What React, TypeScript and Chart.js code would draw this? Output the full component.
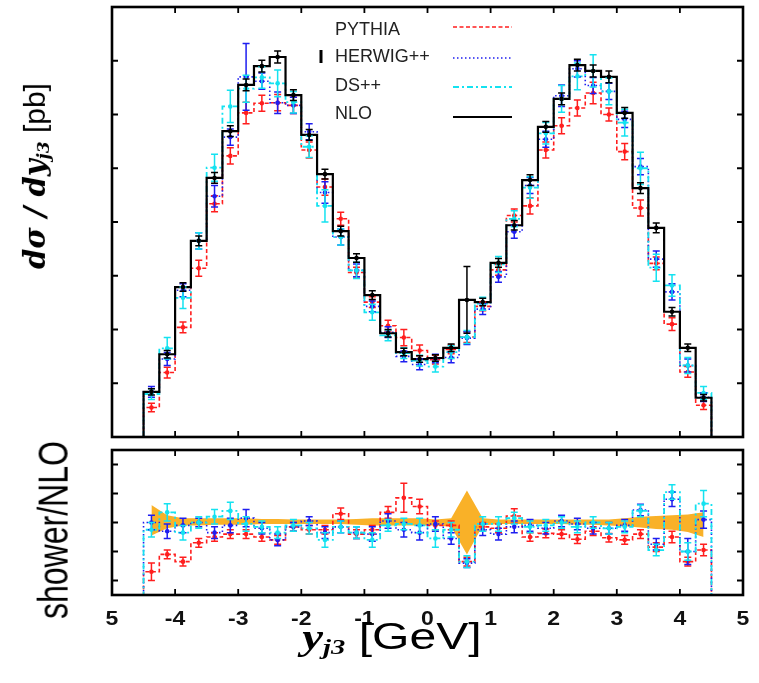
import React, { useEffect, useRef } from "react";
import { Chart, registerables } from "chart.js";
Chart.register(...registerables);

// ---------- data ----------
const binEdges = [-4.5,-4.25,-4,-3.75,-3.5,-3.25,-3,-2.75,-2.5,-2.25,-2,-1.75,-1.5,-1.25,-1,-0.75,-0.5,-0.25,0,0.25,0.5,0.75,1,1.25,1.5,1.75,2,2.25,2.5,2.75,3,3.25,3.5,3.75,4,4.25,4.5];
const xTickValues = [-5,-4,-3,-2,-1,0,1,2,3,4,5];
const xTickLabels = ["5","-4","-3","-2","-1","0","1","2","3","4","5"];
const topYTicks = [0,1,2,3,4,5,6,7,8];
const ratioYTicks = [0.6,0.8,1.0,1.2,1.4];

// top panel: d sigma / dy (arbitrary units)
const nlo = [0.84,1.54,2.79,3.65,4.82,5.69,6.55,6.90,7.07,6.36,5.62,4.89,3.83,3.33,2.64,1.93,1.58,1.45,1.47,1.66,2.55,2.51,3.24,3.94,4.78,5.77,6.29,6.92,6.81,6.70,6.03,4.63,3.89,2.33,1.66,0.73];
const nloErr = [0.06,0.07,0.08,0.09,0.10,0.10,0.11,0.11,0.11,0.10,0.10,0.09,0.09,0.08,0.08,0.07,0.07,0.06,0.06,0.07,0.62,0.07,0.08,0.09,0.10,0.10,0.11,0.11,0.11,0.11,0.10,0.10,0.09,0.08,0.07,0.06];
const pythia = [0.55,1.20,2.04,3.14,4.34,5.23,6.03,6.21,6.22,6.17,5.34,4.65,4.06,3.06,2.51,2.07,1.85,1.61,1.44,1.63,1.86,2.43,3.11,4.12,4.30,5.34,5.79,6.12,6.40,6.00,5.31,4.26,3.23,2.10,1.21,0.59];
const pythiaErr = [0.08,0.10,0.10,0.15,0.15,0.15,0.20,0.15,0.15,0.15,0.15,0.15,0.12,0.10,0.10,0.10,0.15,0.10,0.08,0.08,0.10,0.08,0.10,0.12,0.15,0.15,0.15,0.15,0.20,0.12,0.15,0.15,0.12,0.12,0.10,0.08];
const herwig = [0.84,1.45,2.73,3.65,4.48,5.58,6.70,6.62,6.22,6.17,5.68,4.55,3.72,3.10,2.43,1.95,1.50,1.35,1.46,1.48,1.84,2.38,2.98,3.82,4.68,5.54,6.35,6.85,6.54,6.43,5.91,5.03,3.31,2.70,1.33,0.74];
const herwigErr = [0.10,0.12,0.12,0.15,0.20,0.15,0.62,0.15,0.20,0.15,0.15,0.20,0.15,0.12,0.10,0.10,0.10,0.10,0.08,0.10,0.12,0.10,0.10,0.12,0.15,0.15,0.20,0.15,0.15,0.15,0.15,0.15,0.15,0.15,0.12,0.08];
const dspp = [0.80,1.65,2.59,3.65,5.01,6.15,6.48,6.69,6.58,6.23,5.40,4.30,3.72,3.10,2.32,1.89,1.56,1.42,1.31,1.58,1.86,2.48,3.21,4.06,4.64,5.65,6.29,6.71,6.81,6.43,5.85,5.00,3.15,2.82,1.33,0.82];
const dsppErr = [0.10,0.20,0.20,0.15,0.25,0.30,0.25,0.20,0.25,0.20,0.20,0.30,0.15,0.15,0.15,0.10,0.10,0.10,0.10,0.12,0.12,0.12,0.15,0.15,0.20,0.20,0.25,0.25,0.30,0.25,0.25,0.30,0.25,0.20,0.15,0.12];

// bottom panel: shower / NLO
const pythiaRatio = [0.66,0.78,0.73,0.86,0.90,0.92,0.92,0.90,0.88,0.97,0.95,0.95,1.06,0.92,0.95,1.07,1.17,1.11,0.98,0.98,0.73,0.97,0.96,1.045,0.90,0.925,0.92,0.885,0.94,0.895,0.88,0.92,0.83,0.90,0.73,0.81];
const pythiaRatioErr = [0.06,0.03,0.03,0.03,0.03,0.03,0.03,0.03,0.03,0.03,0.03,0.03,0.04,0.03,0.03,0.04,0.10,0.05,0.03,0.03,0.03,0.03,0.03,0.05,0.03,0.03,0.03,0.03,0.03,0.03,0.03,0.03,0.03,0.04,0.03,0.04];
const herwigRatio = [1.00,0.94,0.98,1.00,0.93,0.98,1.03,0.96,0.88,0.97,1.01,0.93,0.97,0.93,0.92,1.01,0.95,0.93,0.99,0.89,0.72,0.95,0.92,0.97,0.98,0.96,1.01,0.99,0.96,0.96,0.98,1.086,0.85,1.16,0.80,1.02];
const herwigRatioErr = [0.05,0.05,0.05,0.03,0.04,0.05,0.06,0.04,0.04,0.03,0.03,0.04,0.04,0.04,0.05,0.05,0.05,0.05,0.05,0.04,0.03,0.04,0.04,0.04,0.04,0.04,0.04,0.04,0.04,0.04,0.04,0.04,0.04,0.05,0.09,0.06];
const dsppRatio = [0.95,1.07,0.93,1.00,1.04,1.08,0.99,0.97,0.93,0.98,0.96,0.88,0.97,0.93,0.88,0.98,0.99,0.98,0.89,0.95,0.73,0.99,0.99,1.03,0.97,0.98,1.00,0.97,1.00,0.96,0.97,1.08,0.81,1.21,0.80,1.13];
const dsppRatioErr = [0.05,0.06,0.05,0.04,0.05,0.06,0.05,0.04,0.04,0.04,0.04,0.05,0.04,0.04,0.05,0.04,0.04,0.05,0.06,0.05,0.04,0.05,0.05,0.04,0.04,0.04,0.04,0.04,0.04,0.04,0.04,0.04,0.04,0.05,0.06,0.09];
// NLO scale-uncertainty band
const bandHi = [1.12,1.05,1.03,1.03,1.03,1.03,1.03,1.025,1.025,1.02,1.02,1.02,1.02,1.025,1.03,1.03,1.03,1.03,1.02,1.03,1.22,1.03,1.02,1.02,1.02,1.02,1.02,1.02,1.02,1.02,1.03,1.04,1.045,1.05,1.055,1.07];
const bandLo = [0.91,0.96,0.98,0.98,0.985,0.985,0.985,0.99,0.99,0.99,0.99,0.99,0.99,0.985,0.98,0.98,0.98,0.98,0.98,0.97,0.78,0.98,0.99,0.99,0.99,0.99,0.99,0.985,0.985,0.98,0.975,0.965,0.955,0.95,0.935,0.90];

const legendNames = ["PYTHIA", "HERWIG++", "DS++", "NLO"];

// ---------- styles ----------
const RED = "#ff1e1e";
const BLUE = "#1e1ef0";
const CYAN = "#14e2f0";
const BLACK = "#000000";
const ORANGE = "#f9b128";
const STY = [
  { color: RED, dash: [4, 2.5], width: 1.6 },
  { color: BLUE, dash: [1.5, 2.5], width: 1.6 },
  { color: CYAN, dash: [6, 3, 2, 3], width: 1.8 },
  { color: BLACK, dash: [] as number[], width: 2.2 },
];

const centers = binEdges.slice(0, -1).map((e, i) => (e + binEdges[i + 1]) / 2);

function stepData(vals: number[]) {
  const pts: { x: number; y: number }[] = [{ x: binEdges[0], y: 0 }];
  vals.forEach((v, i) => pts.push({ x: binEdges[i], y: v }));
  pts.push({ x: binEdges[binEdges.length - 1], y: vals[vals.length - 1] });
  pts.push({ x: binEdges[binEdges.length - 1], y: 0 });
  return pts;
}

function stepDataset(vals: number[], s: number, order: number) {
  return {
    data: stepData(vals),
    stepped: "before" as const,
    borderColor: STY[s].color,
    borderDash: STY[s].dash,
    borderWidth: STY[s].width,
    pointRadius: 0,
    fill: false,
    order,
  };
}

type ErrSeries = { y: number[]; e: number[]; color: string };

function decorPlugin(cfg: { err: ErrSeries[]; yTicks: number[]; labels: boolean; legend: boolean }) {
  return {
    id: "decor",
    afterDatasetsDraw(chart: any) {
      const ctx = chart.ctx as CanvasRenderingContext2D;
      const a = chart.chartArea;
      const xs = chart.scales.x;
      const ys = chart.scales.y;
      // error bars + points
      ctx.save();
      ctx.beginPath();
      ctx.rect(a.left, a.top, a.right - a.left, a.bottom - a.top);
      ctx.clip();
      ctx.setLineDash([]);
      for (const s of cfg.err) {
        ctx.strokeStyle = s.color;
        ctx.fillStyle = s.color;
        ctx.lineWidth = 1.5;
        s.y.forEach((v, i) => {
          const cx = xs.getPixelForValue(centers[i]);
          const y0 = ys.getPixelForValue(v - s.e[i]);
          const y1 = ys.getPixelForValue(v + s.e[i]);
          const cy = ys.getPixelForValue(v);
          ctx.beginPath();
          ctx.moveTo(cx, y0); ctx.lineTo(cx, y1);
          ctx.moveTo(cx - 3.5, y0); ctx.lineTo(cx + 3.5, y0);
          ctx.moveTo(cx - 3.5, y1); ctx.lineTo(cx + 3.5, y1);
          ctx.stroke();
          ctx.beginPath();
          ctx.arc(cx, cy, 2.3, 0, Math.PI * 2);
          ctx.fill();
        });
      }
      ctx.restore();

      // frame and inward ticks
      ctx.save();
      ctx.setLineDash([]);
      ctx.strokeStyle = "#000";
      ctx.lineWidth = 2.6;
      ctx.strokeRect(a.left, a.top, a.right - a.left, a.bottom - a.top);
      ctx.lineWidth = 1.8;
      ctx.beginPath();
      for (const v of xTickValues) {
        const px = xs.getPixelForValue(v);
        ctx.moveTo(px, a.bottom); ctx.lineTo(px, a.bottom - 6);
        ctx.moveTo(px, a.top); ctx.lineTo(px, a.top + 6);
      }
      for (const v of cfg.yTicks) {
        const py = ys.getPixelForValue(v);
        ctx.moveTo(a.left, py); ctx.lineTo(a.left + 6, py);
        ctx.moveTo(a.right, py); ctx.lineTo(a.right - 6, py);
      }
      ctx.stroke();

      if (cfg.labels) {
        ctx.fillStyle = "#111";
        ctx.font = 'bold 20px "Liberation Sans", Arial, sans-serif';
        ctx.textAlign = "center";
        ctx.textBaseline = "middle";
        xTickValues.forEach((v, i) => {
          const px = xs.getPixelForValue(v);
          ctx.save();
          ctx.translate(px, a.bottom + 24);
          ctx.scale(1.15, 1);
          ctx.fillText(xTickLabels[i], 0, 0);
          ctx.restore();
        });
      }

      if (cfg.legend) {
        const textY = [30, 57, 86, 114];
        const lineY = [27, 58, 87, 117];
        ctx.font = '18px "Liberation Sans", Arial, sans-serif';
        ctx.textAlign = "left";
        ctx.textBaseline = "middle";
        legendNames.forEach((n, i) => {
          ctx.fillStyle = "#222";
          ctx.fillText(n, 335, textY[i]);
          ctx.strokeStyle = STY[i].color;
          ctx.lineWidth = STY[i].width;
          ctx.setLineDash(STY[i].dash);
          ctx.beginPath();
          ctx.moveTo(453, lineY[i]);
          ctx.lineTo(512, lineY[i]);
          ctx.stroke();
        });
        ctx.setLineDash([]);
        ctx.strokeStyle = "#000";
        ctx.lineWidth = 3;
        ctx.beginPath();
        ctx.moveTo(321, 50);
        ctx.lineTo(321, 63);
        ctx.stroke();
      }
      ctx.restore();
    },
  };
}

function hiddenScale(min: number, max: number, step: number, fit: (s: any) => void) {
  return {
    type: "linear" as const,
    min,
    max,
    ticks: { display: false, stepSize: step },
    grid: { display: false },
    border: { display: false },
    afterFit: fit,
  };
}

export default function App() {
  const topRef = useRef<HTMLCanvasElement>(null);
  const botRef = useRef<HTMLCanvasElement>(null);

  useEffect(() => {
    const top = new Chart(topRef.current!, {
      type: "line",
      data: {
        datasets: [
          stepDataset(nlo, 3, 0),
          stepDataset(dspp, 2, 1),
          stepDataset(herwig, 1, 2),
          stepDataset(pythia, 0, 3),
        ] as any,
      },
      options: {
        animation: false,
        responsive: false,
        devicePixelRatio: 1,
        layout: { padding: { left: 0, right: 16, top: 7, bottom: 0 } },
        plugins: { legend: { display: false }, tooltip: { enabled: false } },
        scales: {
          x: hiddenScale(-5, 5, 1, (s: any) => { s.height = 8; }),
          y: hiddenScale(0, 8, 1, (s: any) => { s.width = 112; }),
        } as any,
      },
      plugins: [
        decorPlugin({
          err: [
            { y: pythia, e: pythiaErr, color: RED },
            { y: herwig, e: herwigErr, color: BLUE },
            { y: dspp, e: dsppErr, color: CYAN },
            { y: nlo, e: nloErr, color: BLACK },
          ],
          yTicks: topYTicks,
          labels: false,
          legend: true,
        }),
      ],
    });

    const bot = new Chart(botRef.current!, {
      type: "line",
      data: {
        datasets: [
          {
            data: centers.map((c, i) => ({ x: c, y: bandLo[i] })),
            borderWidth: 0,
            pointRadius: 0,
            fill: false,
            order: 10,
          },
          {
            data: centers.map((c, i) => ({ x: c, y: bandHi[i] })),
            borderWidth: 0,
            pointRadius: 0,
            fill: "-1",
            backgroundColor: ORANGE,
            order: 9,
          },
          stepDataset(dsppRatio, 2, 1),
          stepDataset(herwigRatio, 1, 2),
          stepDataset(pythiaRatio, 0, 3),
        ] as any,
      },
      options: {
        animation: false,
        responsive: false,
        devicePixelRatio: 1,
        layout: { padding: { left: 0, right: 16, top: 5, bottom: 0 } },
        plugins: { legend: { display: false }, tooltip: { enabled: false } },
        scales: {
          x: hiddenScale(-5, 5, 1, (s: any) => { s.height = 88; }),
          y: hiddenScale(0.5, 1.5, 0.2, (s: any) => { s.width = 112; }),
        } as any,
      },
      plugins: [
        decorPlugin({
          err: [
            { y: pythiaRatio, e: pythiaRatioErr, color: RED },
            { y: herwigRatio, e: herwigRatioErr, color: BLUE },
            { y: dsppRatio, e: dsppRatioErr, color: CYAN },
          ],
          yTicks: ratioYTicks,
          labels: true,
          legend: false,
        }),
      ],
    });

    return () => {
      top.destroy();
      bot.destroy();
    };
  }, []);

  const serif = '"DejaVu Serif", serif';
  const sans = '"Liberation Sans", Arial, sans-serif';

  return (
    <div style={{ position: "absolute", left: 0, top: 0, width: 759, height: 683, background: "#fff", overflow: "hidden" }}>
      <canvas ref={topRef} width={759} height={445} style={{ position: "absolute", left: 0, top: 0, width: 759, height: 445 }} />
      <canvas ref={botRef} width={759} height={238} style={{ position: "absolute", left: 0, top: 445, width: 759, height: 238 }} />

      <div style={{ position: "absolute", left: 36, top: 176, transform: "translate(-50%,-50%) rotate(-90deg)", whiteSpace: "nowrap", lineHeight: 1, color: "#000" }}>
        <span style={{ fontFamily: serif, fontStyle: "italic", fontWeight: 700, fontSize: 29 }}>dσ / dy</span>
        <sub style={{ fontFamily: serif, fontStyle: "italic", fontWeight: 700, fontSize: 17 }}>j3</sub>
        <span style={{ fontFamily: sans, fontSize: 30 }}>&nbsp;[pb]</span>
      </div>

      <div style={{ position: "absolute", left: 53, top: 530, transform: "translate(-50%,-50%) scaleX(1.3) rotate(-90deg)", whiteSpace: "nowrap", lineHeight: 1, fontFamily: sans, fontSize: 32, color: "#000" }}>
        shower/NLO
      </div>

      <div style={{ position: "absolute", left: 392, top: 638, transform: "translate(-50%,-50%) scaleX(1.3)", whiteSpace: "nowrap", lineHeight: 1, color: "#000" }}>
        <span style={{ fontFamily: '"Liberation Serif", serif', fontStyle: "italic", fontWeight: 700, fontSize: 36 }}>y</span>
        <sub style={{ fontFamily: '"Liberation Serif", serif', fontStyle: "italic", fontWeight: 700, fontSize: 22 }}>j3</sub>
        <span style={{ fontFamily: sans, fontSize: 37 }}>&nbsp;[GeV]</span>
      </div>
    </div>
  );
}
